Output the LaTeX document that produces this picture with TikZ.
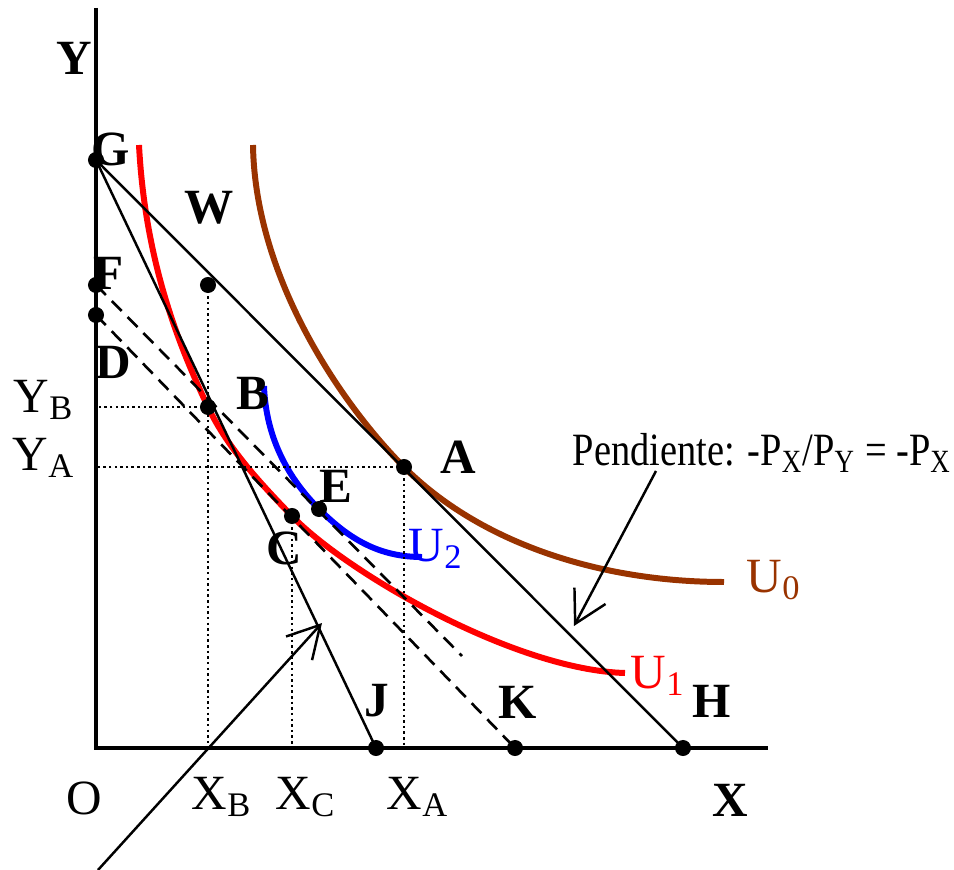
\documentclass[tikz,border=0pt]{standalone}
\usepackage{fontspec}
\setmainfont{Liberation Serif}
\usetikzlibrary{arrows.meta}
\definecolor{ubrown}{RGB}{153,51,0}

\begin{document}
\begin{tikzpicture}[x=0.01cm, y=-0.01cm,
  >={Straight Barb[length=9pt,width=10pt]},
  every node/.style={font=\fontsize{14}{16}\selectfont, inner sep=0pt},
  pt/.style={circle, fill, inner sep=0pt, minimum size=1.6mm},
  lbl/.style={font=\fontsize{14}{16}\selectfont\bfseries},
  axis/.style={line width=0.9pt},
  budget/.style={line width=0.7pt},
  comp/.style={line width=0.75pt, dash pattern=on 4pt off 2.4pt},
  guide/.style={line width=0.75pt, dash pattern=on 0.7pt off 0.9pt},
  indif/.style={line width=1.7pt}
]
  \useasboundingbox (0,0) rectangle (954,870);

  % axes
  \coordinate (O) at (96,748);
  \coordinate (ytop) at (96,8);
  \coordinate (xend) at (768,748);
  \draw[axis] (ytop) -- (O) -- (xend);

  % points of the diagram
  \foreach \n/\x/\y in {G/96/160, F/96/285, D/96/315, W/208/285, B/208/407,
                        A/404/467, E/319/509, C/292/516, J/376/748,
                        K/515/748, H/683/748}
    \coordinate (\n) at (\x,\y);

  % indifference curves
  \draw[indif, ubrown] (253,145) .. controls (255,280) and (344,407) .. (A)
        .. controls (480,543) and (600,582) .. (724,582);
  \draw[indif, red] (139,145) .. controls (145,260) and (178,344) .. (B)
        .. controls (228,449) and (262,485) .. (C)
        .. controls (347,573) and (515,670) .. (625,673);
  \draw[indif, blue] (264,386) .. controls (266,440) and (290,480) .. (E)
        .. controls (350,540) and (380,557) .. (422,557);

  % guides
  \draw[guide] (W) -- (W |- O);
  \draw[guide] (C) -- (C |- O);
  \draw[guide] (A) -- (A |- O);
  \draw[guide] (B) -- (B -| O);
  \draw[guide] (A) -- (A -| O);

  % budget lines
  \coordinate (fend) at (462,656);
  \draw[budget] (G) -- (H);
  \draw[budget] (G) -- (J);
  \draw[comp] (F) -- (fend);
  \draw[comp] (D) -- (K);

  % dots
  \foreach \n in {G,F,D,W,B,A,E,C,J,K,H}
    \node[pt] (p\n) at (\n) {};

  % arrows
  \coordinate (t1) at (656,471);
  \coordinate (h1) at (574,626);
  \coordinate (t2) at (98,870);
  \coordinate (h2) at (322,623);
  \draw[budget, ->] (t1) -- (h1);
  \draw[budget, ->] (t2) -- (h2);

  % labels
  \node[lbl] (lY) at (74,58) {Y};
  \node[lbl] (lG) at (111,149) {G};
  \node[lbl] (lW) at (209,208) {W};
  \node[lbl] (lF) at (109,273) {F};
  \node[lbl] (lD) at (113,362) {D};
  \node[lbl] (lB) at (253,393) {B};
  \node[lbl] (lA) at (458,457) {A};
  \node[lbl] (lE) at (336,486) {E};
  \node[lbl] (lC) at (284,548) {C};
  \node[lbl] (lJ) at (377,701) {J};
  \node[lbl] (lK) at (518,702) {K};
  \node[lbl] (lH) at (712,701) {H};
  \node[lbl] (lX) at (730,800) {X};
  \node (lO) at (84,798) {O};
  \node (xb) at (222,797) {X\textsubscript{B}};
  \node (xc) at (306,797) {X\textsubscript{C}};
  \node (xa) at (418,797) {X\textsubscript{A}};
  \node (yb) at (44,400) {Y\textsubscript{B}};
  \node (ya) at (44,458) {Y\textsubscript{A}};
  \node[text=ubrown] (u0) at (774,580) {U\textsubscript{0}};
  \node[text=red] (u1) at (658,676) {U\textsubscript{1}};
  \node[text=blue] (u2) at (436,549) {U\textsubscript{2}};
  \node (pend) at (762,453)
    {\scalebox{0.78}[0.94]{Pendiente: -P\textsubscript{X}/P\textsubscript{Y} = -P\textsubscript{X}}};
\end{tikzpicture}
\end{document}
